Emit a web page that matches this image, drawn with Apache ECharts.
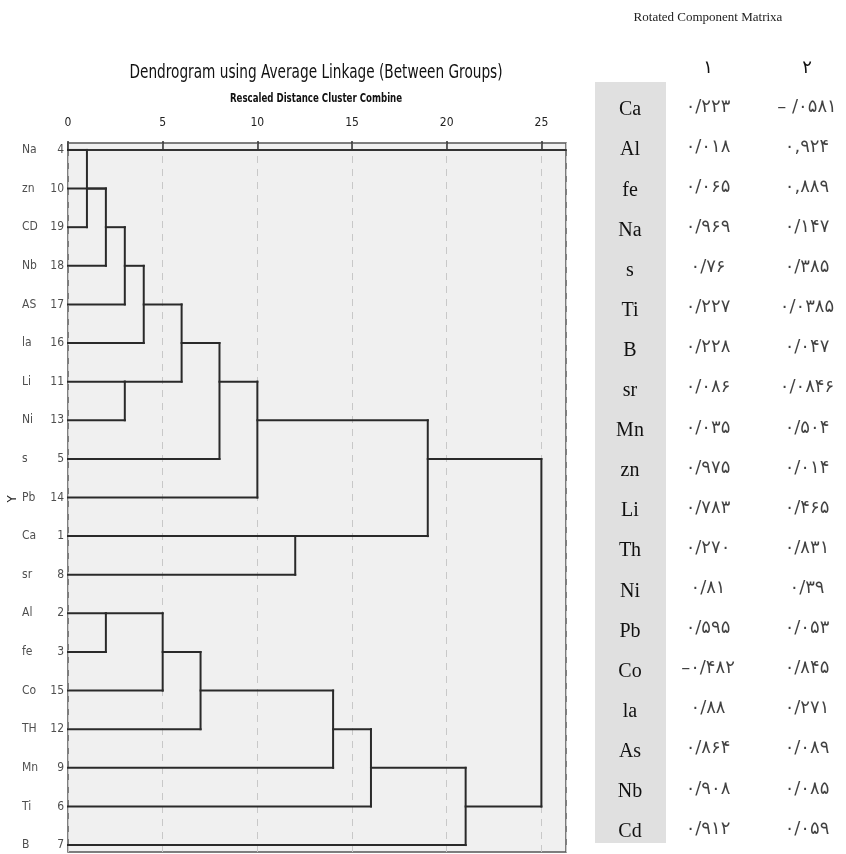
<!DOCTYPE html>
<html>
<head>
<meta charset="utf-8">
<script src="https://cdn.jsdelivr.net/npm/echarts@6/dist/echarts.min.js"></script>
<style>
  html, body { margin: 0; padding: 0; background: #fff; }
  #main { width: 846px; height: 854px; }
</style>
</head>
<body>
<div id="main"></div>
<script>
// leaves, top to bottom
var leafNames = ['Na', 'zn', 'CD', 'Nb', 'AS', 'la', 'Li', 'Ni', 's', 'Pb', 'Ca', 'sr', 'Al', 'fe', 'Co', 'TH', 'Mn', 'Ti', 'B'];
var leafIds = [4, 10, 19, 18, 17, 16, 11, 13, 5, 14, 1, 8, 2, 3, 15, 12, 9, 6, 7];
// distance where each leaf line stops
var leafEnd = [1, 2, 1, 2, 3, 4, 3, 3, 8, 10, 12, 12, 2, 2, 5, 7, 14, 16, 21];

// horizontal links between merges (row, from, to)
var linkRow = [1, 2, 3, 4, 6, 5, 6, 7, 10, 8, 12, 13, 14, 15, 16, 17];
var linkFrom = [1, 2, 3, 4, 3, 6, 8, 10, 12, 19, 2, 5, 7, 14, 16, 21];
var linkTo = [2, 3, 4, 6, 6, 8, 10, 19, 19, 25, 5, 7, 14, 16, 21, 25];

// vertical joins (distance, top row, bottom row)
var mergeDist = [1, 2, 3, 4, 3, 6, 8, 10, 12, 19, 25, 2, 5, 7, 14, 16, 21];
var mergeTop = [0, 1, 2, 3, 6, 4, 5, 6, 10, 7, 8, 12, 12, 13, 14, 15, 16];
var mergeBottom = [2, 3, 4, 5, 7, 6, 8, 9, 11, 10, 17, 13, 14, 15, 16, 17, 18];

// right-hand table
var tableCols = ['۱', '۲'];
var tableNames = ['Ca', 'Al', 'fe', 'Na', 's', 'Ti', 'B', 'sr', 'Mn', 'zn', 'Li', 'Th', 'Ni', 'Pb', 'Co', 'la', 'As', 'Nb', 'Cd'];
var comp1 = ['۰/۲۲۳', '۰/۰۱۸', '۰/۰۶۵', '۰/۹۶۹', '۰/۷۶', '۰/۲۲۷', '۰/۲۲۸', '۰/۰۸۶', '۰/۰۳۵', '۰/۹۷۵',
             '۰/۷۸۳', '۰/۲۷۰', '۰/۸۱', '۰/۵۹۵', '–۰/۴۸۲', '۰/۸۸', '۰/۸۶۴', '۰/۹۰۸', '۰/۹۱۲'];
var comp2 = ['– /۰۵۸۱', '۰,۹۲۴', '۰,۸۸۹', '۰/۱۴۷', '۰/۳۸۵', '۰/۰۳۸۵', '۰/۰۴۷', '۰/۰۸۴۶', '۰/۵۰۴', '۰/۰۱۴',
             '۰/۴۶۵', '۰/۸۳۱', '۰/۳۹', '۰/۰۵۳', '۰/۸۴۵', '۰/۲۷۱', '۰/۰۸۹', '۰/۰۸۵', '۰/۰۵۹'];

var narrow = "'Liberation Sans Narrow', 'DejaVu Sans Condensed', 'Liberation Sans', sans-serif";
var serif = "'Liberation Serif', 'DejaVu Serif', serif";
var persian = "'DejaVu Sans', 'Noto Sans', sans-serif";

var segs = [];
leafEnd.forEach(function (e, i) { segs.push([0, i, e, i]); });
linkRow.forEach(function (r, i) { segs.push([linkFrom[i], r, linkTo[i], r]); });
mergeDist.forEach(function (d, i) { segs.push([d, mergeTop[i], d, mergeBottom[i]]); });

var leafPts = leafNames.map(function (n, i) { return [0, i]; });

var cells1 = comp1.map(function (v, i) { return { value: [0, i], label: { formatter: v } }; });
var cells2 = comp2.map(function (v, i) { return { value: [1, i], label: { formatter: v } }; });

var chart = echarts.init(document.getElementById('main'));

chart.setOption({
    animation: false,
    backgroundColor: '#fff',
    graphic: [
        { type: 'text', x: 316, y: 73, scaleX: 0.8, style: { text: 'Dendrogram using Average Linkage (Between Groups)', font: '19px ' + narrow, fill: '#111', textAlign: 'center', textVerticalAlign: 'middle' } },
        { type: 'text', x: 316, y: 99, scaleX: 0.8, style: { text: 'Rescaled Distance Cluster Combine', font: 'bold 12px ' + narrow, fill: '#111', textAlign: 'center', textVerticalAlign: 'middle' } },
        { type: 'text', x: 708, y: 18, style: { text: 'Rotated Component Matrixa', font: '13px ' + serif, fill: '#222', textAlign: 'center', textVerticalAlign: 'middle' } },
        { type: 'text', x: 13, y: 499, rotation: Math.PI / 2, style: { text: 'Y', font: '13px ' + narrow, fill: '#222', textAlign: 'center', textVerticalAlign: 'middle' } },
        { type: 'rect', z: -1, shape: { x: 595, y: 82, width: 71, height: 761 }, style: { fill: '#e0e0e0' } }
    ],
    grid: [
        { left: 68, right: 280, top: 143, bottom: 2, show: true, backgroundColor: '#f0f0f0', borderColor: '#555', borderWidth: 1.5 },
        { left: 708, right: 39, top: 90, bottom: 2 }
    ],
    xAxis: [
        {
            gridIndex: 0, type: 'value', position: 'top', min: 0, max: 26.3, interval: 5,
            axisLine: { show: true, lineStyle: { color: '#333', width: 2 } },
            axisTick: { show: true, length: 9, lineStyle: { color: '#333', width: 1.5 } },
            axisLabel: { showMaxLabel: false, margin: 14, color: '#222', fontSize: 12, fontFamily: narrow },
            splitLine: { show: true, lineStyle: { color: '#c8c8c8', type: [7, 6], width: 1 } }
        },
        {
            gridIndex: 1, type: 'category', position: 'top', data: tableCols, boundaryGap: false,
            axisLine: { show: false }, axisTick: { show: false },
            axisLabel: { margin: 13, color: '#111', fontSize: 18, fontFamily: persian }
        }
    ],
    yAxis: [
        { gridIndex: 0, type: 'value', min: -0.18, max: 18.18, inverse: true, show: false },
        {
            gridIndex: 1, type: 'category', data: tableNames, inverse: true,
            axisLine: { show: false }, axisTick: { show: false },
            axisLabel: { margin: 78, align: 'center', color: '#111', fontSize: 20, fontFamily: serif }
        }
    ],
    series: [
        {
            type: 'custom',
            xAxisIndex: 0, yAxisIndex: 0,
            encode: { x: [0, 2], y: [1, 3] },
            data: segs,
            renderItem: function (params, api) {
                var a = api.coord([api.value(0), api.value(1)]);
                var b = api.coord([api.value(2), api.value(3)]);
                return {
                    type: 'line',
                    shape: { x1: a[0], y1: a[1], x2: b[0], y2: b[1] },
                    style: { stroke: '#2a2a2a', lineWidth: 2, lineCap: 'square' }
                };
            }
        },
        {
            type: 'scatter',
            xAxisIndex: 0, yAxisIndex: 0,
            symbolSize: 0,
            data: leafPts,
            label: {
                show: true, position: [-4, 0], align: 'right', verticalAlign: 'middle',
                color: '#222', fontSize: 12, fontFamily: narrow,
                formatter: function (p) { return String(leafIds[p.dataIndex]); }
            }
        },
        {
            type: 'scatter',
            xAxisIndex: 0, yAxisIndex: 0,
            symbolSize: 0,
            data: leafPts,
            label: {
                show: true, position: [-46, 0], align: 'left', verticalAlign: 'middle',
                color: '#222', fontSize: 12, fontFamily: narrow,
                formatter: function (p) { return leafNames[p.dataIndex]; }
            }
        },
        {
            type: 'scatter',
            xAxisIndex: 1, yAxisIndex: 1,
            symbolSize: 0,
            data: cells1.concat(cells2),
            label: {
                show: true, position: [0, -3], align: 'center', verticalAlign: 'middle',
                color: '#111', fontSize: 18, fontFamily: persian
            }
        }
    ]
});
</script>
</body>
</html>
